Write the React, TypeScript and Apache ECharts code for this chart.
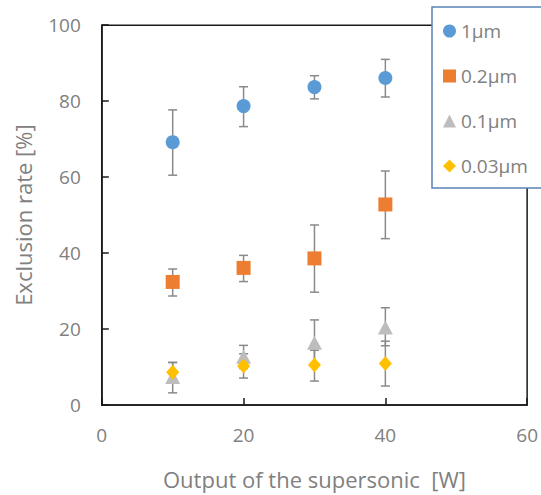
import React, { useEffect, useRef } from "react";
import * as echarts from "echarts";

const xValues = [10, 20, 30, 40];
const seriesNames = ["1µm", "0.2µm", "0.1µm", "0.03µm"];
const val1um = [69.2, 78.7, 83.7, 86.1];
const low1um = [60.5, 73.3, 80.6, 81.1];
const high1um = [77.7, 83.8, 86.7, 91.0];
const val02um = [32.4, 36.1, 38.6, 52.8];
const low02um = [28.7, 32.5, 29.7, 43.8];
const high02um = [35.8, 39.4, 47.4, 61.6];
const val01um = [7.4, 12.7, 16.4, 20.4];
const low01um = [3.2, 9.6, 10.4, 15.6];
const high01um = [11.2, 15.7, 22.4, 25.6];
const val003um = [8.6, 10.3, 10.5, 10.9];
const low003um = [6.2, 7.1, 6.3, 5.0];
const high003um = [11.2, 13.5, 14.4, 16.8];

const colors = ["#5b9bd5", "#ed7d31", "#bdbdbd", "#ffc000"];
const symbols = ["circle", "rect", "triangle", "diamond"];
const symbolSizes = [14, 14, [15, 14], [13, 15]];

const values = [val1um, val02um, val01um, val003um];
const lows = [low1um, low02um, low01um, low003um];
const highs = [high1um, high02um, high01um, high003um];

const FONT = "Open Sans";
const TEXT = "#808080";

export default function App() {
  const ref = useRef<HTMLDivElement>(null);
  useEffect(() => {
    if (!ref.current) return;
    const chart = echarts.init(ref.current, undefined, { renderer: "svg" });
    const errData: number[][] = [];
    values.forEach((_, s) => {
      xValues.forEach((x, i) => errData.push([x, lows[s][i], highs[s][i]]));
    });
    const errorSeries = {
      type: "custom",
      name: "err",
      z: 1,
      silent: true,
      data: errData,
      renderItem: (params: any, api: any) => {
        const x = api.value(0);
        const lo = api.coord([x, api.value(1)]);
        const hi = api.coord([x, api.value(2)]);
        const hw = 4.5;
        const style = { stroke: "#8a8a8a", lineWidth: 1.5 };
        return {
          type: "group",
          children: [
            { type: "line", shape: { x1: lo[0], y1: lo[1], x2: hi[0], y2: hi[1] }, style },
            { type: "line", shape: { x1: lo[0] - hw, y1: lo[1], x2: lo[0] + hw, y2: lo[1] }, style },
            { type: "line", shape: { x1: hi[0] - hw, y1: hi[1], x2: hi[0] + hw, y2: hi[1] }, style },
          ],
        };
      },
    };
    const scatterSeries = values.map((v, s) => ({
      type: "scatter",
      name: seriesNames[s],
      z: 2 + s,
      symbol: symbols[s],
      symbolSize: symbolSizes[s],
      itemStyle: { color: colors[s], opacity: 1 },
      data: xValues.map((x, i) => [x, v[i]]),
    }));
    chart.setOption({
      animation: false,
      textStyle: { fontFamily: FONT },
      grid: {
        left: 101.8,
        right: 11.7,
        top: 25.2,
        bottom: 87.3,
        show: true,
        borderColor: "#1a1a1a",
        borderWidth: 1.5,
        backgroundColor: "transparent",
      },
      legend: {
        orient: "vertical",
        left: 432,
        top: 7,
        padding: [14, 15, 12, 11],
        itemGap: 25,
        itemWidth: 13,
        itemHeight: 13,
        backgroundColor: "#ffffff",
        borderColor: "#5a83b8",
        borderWidth: 1.5,
        borderRadius: 0,
        z: 10,
        data: seriesNames.map((n, s) => ({ name: n, icon: symbols[s] })),
        textStyle: { color: TEXT, fontSize: 19, fontFamily: FONT, lineHeight: 20, padding: [0, 0, 0, 0] },
      },
      xAxis: {
        type: "value",
        min: 0,
        max: 60,
        interval: 20,
        name: "Output of the supersonic  [W]",
        nameLocation: "middle",
        nameGap: 63,
        nameTextStyle: { color: TEXT, fontSize: 22, fontFamily: FONT },
        axisLine: { show: true, lineStyle: { color: "#1a1a1a", width: 1.5 } },
        axisTick: { show: true, inside: true, length: 7, lineStyle: { color: "#1a1a1a", width: 1.5 } },
        axisLabel: { color: TEXT, fontSize: 19, margin: 20, fontFamily: FONT },
        splitLine: { show: false },
      },
      yAxis: {
        type: "value",
        min: 0,
        max: 100,
        interval: 20,
        name: "Exclusion rate [%]",
        nameLocation: "middle",
        nameGap: 68,
        nameTextStyle: { color: TEXT, fontSize: 22, fontFamily: FONT },
        axisLine: { show: true, lineStyle: { color: "#1a1a1a", width: 1.5 } },
        axisTick: { show: true, inside: true, length: 7, lineStyle: { color: "#1a1a1a", width: 1.5 } },
        axisLabel: { color: TEXT, fontSize: 19, margin: 21, fontFamily: FONT },
        splitLine: { show: false },
      },
      series: [errorSeries, ...scatterSeries],
    });
    return () => chart.dispose();
  }, []);
  return <div ref={ref} style={{ width: 541, height: 495, position: "absolute", left: 0, top: 0 }} />;
}
